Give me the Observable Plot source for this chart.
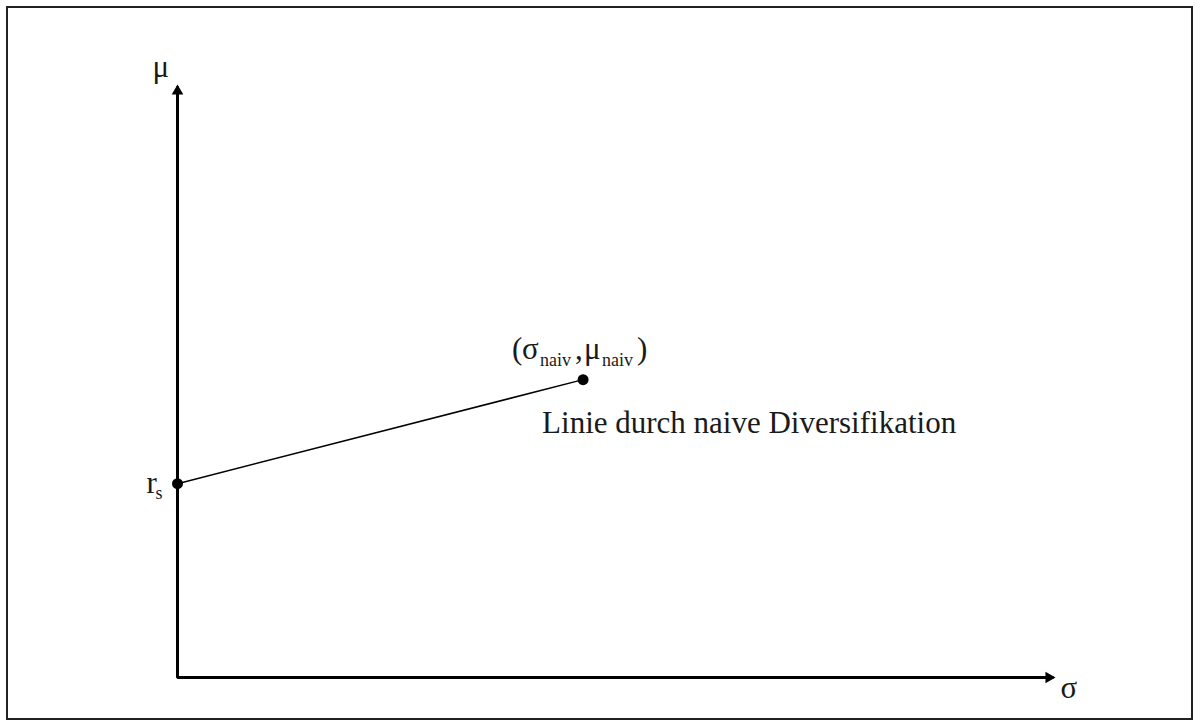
<!DOCTYPE html>
<html><head><meta charset="utf-8">
<script src="https://cdn.jsdelivr.net/npm/d3@7"></script>
<script src="https://cdn.jsdelivr.net/npm/@observablehq/plot@0.6"></script>
<style>
html,body{margin:0;padding:0;background:#fff;}
#wrap{position:relative;width:1200px;height:727px;overflow:hidden;}
#frame{position:absolute;left:6px;top:6px;width:1187px;height:714px;border:2px solid #222;box-sizing:border-box;pointer-events:none;}
</style></head><body>
<div id="wrap"><div id="chart"></div><div id="frame"></div></div>
<script>
// data
const pointNames = ["r_s", "naiv"];
const sigmaValues = [0, 0.463];
const muValues = [0.328, 0.504];
const axisEnd = [1];
const axisLabelX = "σ";
const axisLabelY = "μ";
const lineLabel = "Linie durch naive Diversifikation";
const rLabel = ["r", "s"];
const naivParts = ["(", "σ", "naiv", ",", "μ", "naiv", ")"];

const pts = pointNames.map((n, i) => ({name: n, sigma: sigmaValues[i], mu: muValues[i]}));
const rsPt = pts[0], nvPt = pts[1];

const font = "Liberation Serif, Times New Roman, serif";
const ink = "#1a1a1a";
const big = 31, small = 18;

function txt(pt, s, dx, dy, size) {
  return Plot.text([pt], {x: "sigma", y: "mu", text: () => s, dx, dy,
    textAnchor: "start", lineAnchor: "bottom", fontSize: size, fontFamily: font, fill: ink});
}

const yTop = {sigma: 0, mu: axisEnd[0]};
const origin = {sigma: 0, mu: 0};
const xEnd = {sigma: axisEnd[0], mu: 0};
const axisPath = [yTop, origin, xEnd];

const chart = Plot.plot({
  width: 1200, height: 727,
  marginLeft: 177, marginRight: 147, marginTop: 86, marginBottom: 50,
  x: {domain: [0, axisEnd[0]], axis: null},
  y: {domain: [0, axisEnd[0]], axis: null},
  style: {background: "transparent", overflow: "visible"},
  marks: [
    Plot.line(axisPath, {x: "sigma", y: "mu", stroke: "#000", strokeWidth: 3, strokeLinejoin: "miter", strokeLinecap: "butt"}),
    Plot.dot([yTop], {x: "sigma", y: "mu", symbol: "triangle", r: 4.3, fill: "#000", stroke: null, dy: 4.7}),
    Plot.dot([xEnd], {x: "sigma", y: "mu", symbol: "triangle", r: 4.3, fill: "#000", stroke: null, rotate: 90, dx: -4.7}),
    Plot.line(pts, {x: "sigma", y: "mu", stroke: "#000", strokeWidth: 1.5}),
    Plot.dot(pts, {x: "sigma", y: "mu", r: 5.5, fill: "#000", stroke: null}),
    // axis labels
    txt(yTop, axisLabelY, -25, -10, big),
    txt(xEnd, axisLabelX, 7, 20, big),
    // r_s
    txt(rsPt, rLabel[0], -31, 9, big),
    txt(rsPt, rLabel[1], -22, 15, small),
    // (σnaiv, μnaiv)
    txt(nvPt, naivParts[0], -71, -21, big),
    txt(nvPt, naivParts[1], -61, -21, big),
    txt(nvPt, naivParts[2], -43, -14, small),
    txt(nvPt, naivParts[3], -8, -21, big),
    txt(nvPt, naivParts[4], 1, -21, big),
    txt(nvPt, naivParts[5], 19, -14, small),
    txt(nvPt, naivParts[6], 54, -21, big),
    // line label
    txt(nvPt, lineLabel, -41, 53, big)
  ]
});
document.getElementById("chart").appendChild(chart);
</script>
</body></html>
